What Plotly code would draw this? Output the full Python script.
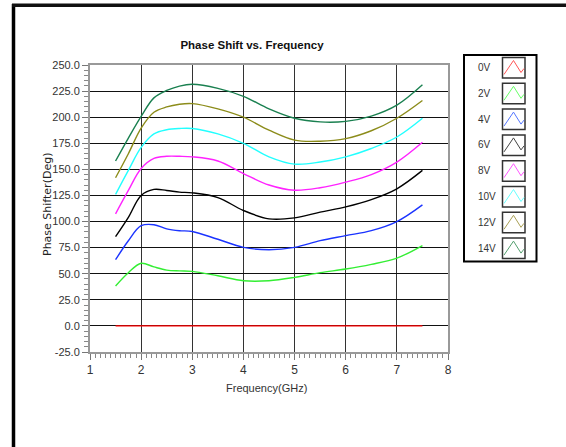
import plotly.graph_objects as go

# ---- data ----
freq_ghz = [1.5, 1.75, 2.0, 2.25, 2.5, 2.75, 3.0, 3.5, 4.0, 4.5, 5.0, 5.5, 6.0, 6.5, 7.0, 7.5]
phase_0v = [0, 0, 0, 0, 0, 0, 0, 0, 0, 0, 0, 0, 0, 0, 0, 0]
phase_2v = [38.3, 51.0, 60.0, 56.5, 53.5, 52.7, 52.3, 48.0, 43.3, 43.3, 46.5, 51.0, 54.5, 59.0, 65.0, 77.0]
phase_4v = [63.4, 81.6, 96.0, 97.0, 93.0, 91.2, 90.5, 83.0, 75.3, 73.0, 75.3, 81.7, 86.5, 91.3, 100.0, 116.0]
phase_6v = [85.5, 104.0, 125.0, 130.8, 129.8, 128.2, 127.5, 123.0, 110.6, 102.6, 103.5, 109.0, 114.0, 121.0, 131.4, 149.0]
phase_8v = [107.4, 129.8, 150.8, 160.5, 162.5, 162.5, 162.0, 158.0, 146.0, 135.0, 130.0, 132.4, 137.8, 145.0, 157.0, 176.0]
phase_10v = [126.0, 149.0, 171.0, 184.0, 188.0, 189.2, 189.2, 184.0, 175.0, 162.0, 155.0, 157.0, 162.0, 170.0, 181.0, 199.0]
phase_12v = [142.0, 165.0, 189.5, 204.7, 209.8, 212.4, 213.0, 208.0, 200.0, 187.5, 178.0, 177.0, 179.5, 187.0, 199.0, 216.0]
phase_14v = [158.0, 180.0, 200.8, 218.5, 225.6, 229.8, 231.5, 227.6, 220.0, 208.0, 199.0, 195.5, 196.0, 201.0, 211.5, 231.0]

series_names = ["0V", "2V", "4V", "6V", "8V", "10V", "12V", "14V"]
series_values = [phase_0v, phase_2v, phase_4v, phase_6v, phase_8v, phase_10v, phase_12v, phase_14v]
series_colors = ["#ff0000", "#33ee33", "#1a33ff", "#000000", "#ff22ff", "#22ffff", "#8c8c1a", "#1a8050"]
legend_colors = ["#ff5555", "#66ff66", "#5577ff", "#444444", "#ff55ff", "#66ffff", "#aaa055", "#55a070"]

x_ticks = [1, 2, 3, 4, 5, 6, 7, 8]
y_ticks = [-25, 0, 25, 50, 75, 100, 125, 150, 175, 200, 225, 250]

W, H = 566, 447
L, R, T, B = 90, 448, 65, 352   # plot area in pixels

def px(xp):
    return (xp - L) / (R - L)

def py(yp):
    return (B - yp) / (B - T)

FONT = "Liberation Sans, Arial, sans-serif"

fig = go.Figure()
for name, vals, col in zip(series_names, series_values, series_colors):
    fig.add_trace(go.Scatter(x=freq_ghz, y=vals, mode="lines", name=name,
                             line=dict(color=col, width=1.4, shape="spline", smoothing=1.0),
                             showlegend=False))

fig.update_layout(
    width=W, height=H,
    margin=dict(l=L, r=W - R, t=T, b=H - B, pad=0),
    paper_bgcolor="white", plot_bgcolor="white",
    font=dict(family=FONT, size=11, color="#333333"),
    title=dict(text="<b>Phase Shift vs. Frequency</b>", x=252 / W, xref="container", xanchor="center",
               y=1 - 45 / H, yref="container", yanchor="middle",
               font=dict(family=FONT, size=11.5, color="#111111")),
)

fig.update_xaxes(range=[1, 8], tickmode="array", tickvals=x_ticks, ticktext=[str(v) for v in x_ticks],
                 showgrid=True, gridcolor="#333333", gridwidth=1,
                 showline=True, linecolor="#999999", linewidth=2, mirror=True,
                 ticks="outside", ticklen=6, tickcolor="#777777", tickwidth=1,
                 minor=dict(dtick=0.1, ticks="outside", ticklen=4, tickcolor="#888888", showgrid=False),
                 zeroline=False, tickfont=dict(size=12, color="#333333"))
fig.update_yaxes(range=[-25, 250], tickmode="array", tickvals=y_ticks,
                 ticktext=[f"{v:.1f}" for v in y_ticks],
                 showgrid=True, gridcolor="#111111", gridwidth=1.3,
                 showline=True, linecolor="#999999", linewidth=2, mirror=True,
                 ticks="outside", ticklen=6, tickcolor="#777777", tickwidth=1,
                 minor=dict(dtick=5, ticks="outside", ticklen=4, tickcolor="#888888", showgrid=False),
                 zeroline=False, tickfont=dict(size=11, color="#333333"))

# axis titles
fig.add_annotation(text="Phase Shifter(Deg)", xref="paper", yref="paper", x=px(47), y=py(205),
                   xanchor="center", yanchor="middle",
                   textangle=-90, showarrow=False, font=dict(family="DejaVu Sans", size=11, color="#222222"))
fig.add_annotation(text="Frequency(GHz)", xref="paper", yref="paper", x=px(266), y=py(388),
                   xanchor="center", yanchor="middle",
                   showarrow=False, font=dict(family=FONT, size=11, color="#333333"))

shapes = []
# outer frame (left and top)
shapes.append(dict(type="line", xref="paper", yref="paper", x0=px(13.5), x1=px(13.5), y0=py(4), y1=py(H + 2),
                   line=dict(color="#000000", width=3.5)))
shapes.append(dict(type="line", xref="paper", yref="paper", x0=px(12), x1=px(W + 2), y0=py(5.3), y1=py(5.3),
                   line=dict(color="#111111", width=3.5)))
# custom legend box
shapes.append(dict(type="rect", xref="paper", yref="paper", x0=px(464), x1=px(536.5), y0=py(55), y1=py(261.5),
                   line=dict(color="#000000", width=2), fillcolor="white"))
row_h = 25.8
for i, (name, col) in enumerate(zip(series_names, legend_colors)):
    top = 57.5 + row_h * i
    shapes.append(dict(type="rect", xref="paper", yref="paper", x0=px(502.5), x1=px(525), y0=py(top), y1=py(top + 20.5),
                       line=dict(color="#333333", width=1.5)))
    pts = [(504, top + 17), (513.5, top + 3), (521, top + 15), (524, top + 11)]
    path = "M " + " L ".join(f"{px(a):.5f},{py(b):.5f}" for a, b in pts)
    shapes.append(dict(type="path", xref="paper", yref="paper", path=path, line=dict(color=col, width=1)))
    fig.add_annotation(text=name, xref="paper", yref="paper", x=px(476), y=py(top + 10),
                       xanchor="left", yanchor="middle",
                       showarrow=False, font=dict(family=FONT, size=10, color="#333333"))
fig.update_layout(shapes=shapes)

fig.write_html("out.html", config={"displayModeBar": False},
               post_script="document.body.style.margin='0';document.body.style.overflow='hidden';")
